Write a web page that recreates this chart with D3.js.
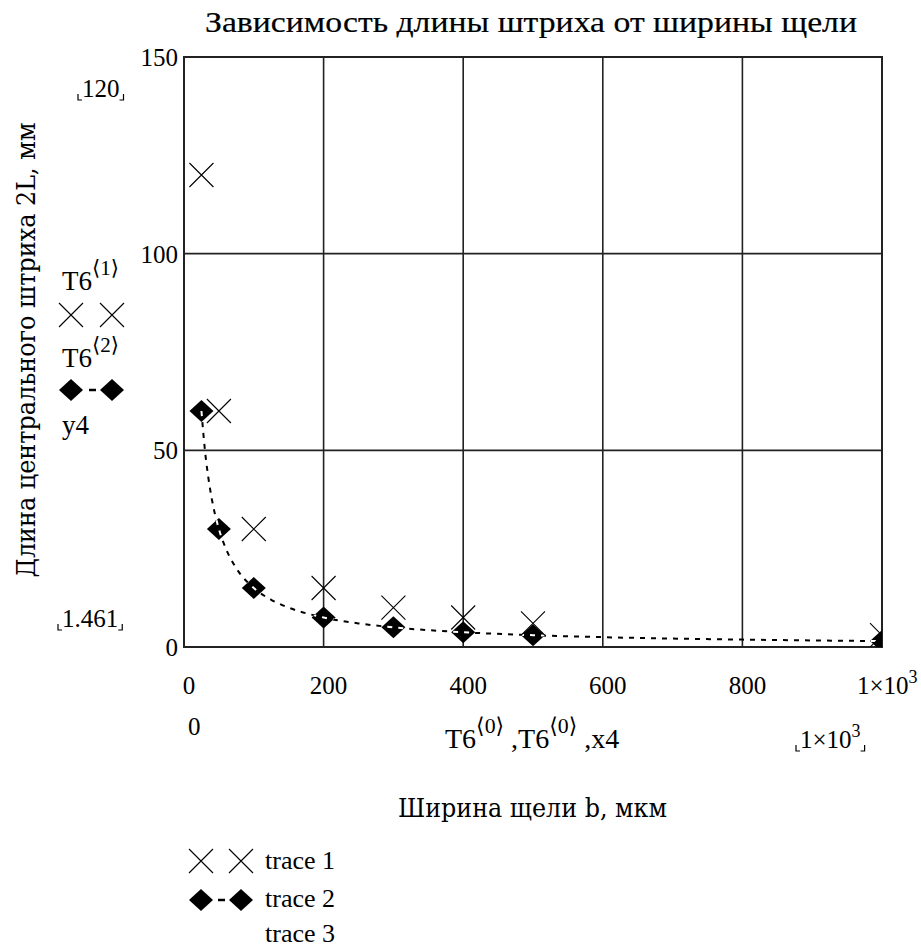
<!DOCTYPE html>
<html><head><meta charset="utf-8">
<script src="https://cdn.jsdelivr.net/npm/d3@7"></script>
<style>body{margin:0;background:#fff}</style>
</head><body>
<script>
// ---- data ----
const title = "Зависимость длины штриха от ширины щели";
const yTitle = "Длина центрального штриха 2L, мм";
const xTitle = "Ширина щели b, мкм";
const b = [25, 50, 100, 200, 300, 400, 500, 1000];           // T6<0>
const len1 = [120, 60, 30, 15, 10, 7.5, 6, 3];               // T6<1>
const len2 = [60, 30, 15, 7.5, 5, 3.75, 3, 1.5];             // T6<2>
const x4 = [25, 30, 35, 40, 50, 60, 75, 100, 125, 150, 200, 250, 300, 400, 500, 600, 700, 800, 900, 1000];
const y4 = [60, 50, 42.9, 37.5, 30, 25, 20, 15, 12, 10, 7.5, 6, 5, 3.75, 3, 2.5, 2.14, 1.88, 1.67, 1.5];
const xTicks = [0, 200, 400, 600, 800, 1000];
const xTickLabels = ["0", "200", "400", "600", "800", "1×10|3"];
const yTicks = [0, 50, 100, 150];
const yTickLabels = ["0", "50", "100", "150"];
const yMaxLabel = "120", yMinLabel = "1.461", xMinLabel = "0", xMaxLabel = "1×10|3";
const legendNames = ["trace 1", "trace 2", "trace 3"];

const W = 921, H = 950;
const serif = "Liberation Serif";
const slab = "DejaVu Serif";
const svg = d3.select("body").append("svg").attr("width", W).attr("height", H)
  .style("background", "#fff");

const x = d3.scaleLinear().domain([0, 1000]).range([184, 882]);
const y = d3.scaleLinear().domain([0, 150]).range([647, 57]);

// title
svg.append("text").attr("x", 205).attr("y", 32).text(title)
  .attr("font-family", serif).attr("font-size", 30).attr("stroke", "#000").attr("stroke-width", 0.2)
  .attr("textLength", 652).attr("lengthAdjust", "spacingAndGlyphs");

// grid
const g = svg.append("g");
g.selectAll(".vg").data(xTicks.slice(1, -1)).join("line")
  .attr("x1", d => x(d)).attr("x2", d => x(d)).attr("y1", y(150)).attr("y2", y(0))
  .attr("stroke", "#222").attr("stroke-width", 1.6);
g.selectAll(".hg").data(yTicks.slice(1, -1)).join("line")
  .attr("y1", d => y(d)).attr("y2", d => y(d)).attr("x1", x(0)).attr("x2", x(1000))
  .attr("stroke", "#222").attr("stroke-width", 1.6);
g.append("rect").attr("x", x(0)).attr("y", y(150)).attr("width", x(1000) - x(0)).attr("height", y(0) - y(150))
  .attr("fill", "none").attr("stroke", "#222").attr("stroke-width", 2);

// text helper with superscript parts: "base|sup"
function supText(sel, px, py, str, fs, anchor) {
  const t = sel.append("text").attr("x", px).attr("y", py)
    .attr("font-family", serif).attr("font-size", fs).attr("text-anchor", anchor || "start");
  const parts = str.split("|");
  t.append("tspan").text(parts[0]);
  if (parts.length > 1) {
    t.append("tspan").attr("dy", -fs * 0.45).attr("font-size", fs * 0.72).text(parts[1]);
  }
  return t;
}
function angleSup(sel, px, py, segs, fs) {
  const t = sel.append("text").attr("x", px).attr("y", py)
    .attr("font-family", serif).attr("font-size", fs);
  let pend = 0;
  const up = fs * 0.55, sfs = fs * 0.78;
  segs.forEach(([base, idx]) => {
    t.append("tspan").attr("dy", pend).text(base);
    pend = 0;
    if (idx !== null) {
      t.append("tspan").attr("dy", -up).attr("font-size", sfs)
        .attr("font-family", "DejaVu Serif").text("⟨");
      t.append("tspan").attr("font-size", sfs).text(idx);
      t.append("tspan").attr("font-size", sfs).attr("font-family", "DejaVu Serif").text("⟩");
      pend = up;
    }
  });
  return t;
}
function bracketed(sel, px, py, str, fs) {
  const t = supText(sel, px, py, str, fs);
  const bb = t.node().getBBox();
  const l = bb.x - 4, r = bb.x + bb.width + 4, bot = py + 3;
  sel.append("path").attr("d", `M${l},${bot - 6}V${bot}H${l + 4}M${r},${bot - 6}V${bot}H${r - 4}`)
    .attr("fill", "none").attr("stroke", "#000").attr("stroke-width", 1.2);
  return t;
}

// y tick labels
yTicks.forEach((v, i) => {
  svg.append("text").attr("x", 178).attr("y", y(v) + 9).attr("text-anchor", "end")
    .attr("font-family", serif).attr("font-size", 25).text(yTickLabels[i]);
});
// x tick labels
xTicks.forEach((v, i) => {
  if (i === xTicks.length - 1) supText(svg, x(v) - 25, 694, xTickLabels[i], 25);
  else supText(svg, x(v) + 5, 694, xTickLabels[i], 25, "middle");
});

// y axis title (rotated)
svg.append("text").attr("transform", "translate(35,350) rotate(-90)").attr("text-anchor", "middle")
  .attr("font-family", slab).attr("font-size", 26).text(yTitle)
  .attr("textLength", 455).attr("lengthAdjust", "spacingAndGlyphs");
// x axis title
svg.append("text").attr("x", 398).attr("y", 817)
  .attr("font-family", slab).attr("font-size", 26).text(xTitle)
  .attr("textLength", 269).attr("lengthAdjust", "spacingAndGlyphs");

// range markers
bracketed(svg, 82, 97, yMaxLabel, 25);
bracketed(svg, 62, 627, yMinLabel, 25);
supText(svg, 188, 735, xMinLabel, 25);
bracketed(svg, 800, 748, xMaxLabel, 25);
angleSup(svg, 445, 748, [["T6", "0"], [" ,T6", "0"], [" ,x4", null]], 28);

// markers
const xMark = "M-12,-12L12,12M-12,12L12,-12";
const diamond = "M0,-11L12,0L0,11L-12,0Z";

// clip for plot
svg.append("clipPath").attr("id", "plotclip").append("rect")
  .attr("x", x(0)).attr("y", y(150)).attr("width", x(1000) - x(0)).attr("height", y(0) - y(150));
const plot = svg.append("g").attr("clip-path", "url(#plotclip)");

const line = d3.line().x((d, i) => x(x4[i])).y((d, i) => y(y4[i])).curve(d3.curveMonotoneX);
plot.append("path").datum(y4).attr("d", line).attr("fill", "none").attr("stroke", "#000")
  .attr("stroke-width", 2).attr("stroke-dasharray", "5,6");

plot.selectAll(".d2").data(len2).join("path")
  .attr("transform", (d, i) => `translate(${x(b[i])},${y(d)})`).attr("d", diamond).attr("fill", "#000");

// white dashes through diamonds (XOR-like)
const dc = svg.append("clipPath").attr("id", "dclip");
len2.forEach((d, i) => dc.append("path").attr("transform", `translate(${x(b[i])},${y(d)})`).attr("d", diamond));
plot.append("g").attr("clip-path", "url(#dclip)").append("path").datum(y4).attr("d", line)
  .attr("fill", "none").attr("stroke", "#fff").attr("stroke-width", 2).attr("stroke-dasharray", "5,6");

plot.selectAll(".x1").data(len1).join("path")
  .attr("transform", (d, i) => `translate(${x(b[i])},${y(d)})`).attr("d", xMark)
  .attr("fill", "none").attr("stroke", "#000").attr("stroke-width", 1.1);

// left legend (Mathcad trace labels)
angleSup(svg, 62, 290, [["T6", "1"]], 27);
[71, 112].forEach(cx => svg.append("path").attr("transform", `translate(${cx},315)`).attr("d", xMark)
  .attr("fill", "none").attr("stroke", "#000").attr("stroke-width", 1.1));
angleSup(svg, 62, 367, [["T6", "2"]], 27);
[71, 112].forEach(cx => svg.append("path").attr("transform", `translate(${cx},390)`).attr("d", diamond).attr("fill", "#000"));
svg.append("line").attr("x1", 89).attr("x2", 96).attr("y1", 390).attr("y2", 390).attr("stroke", "#000").attr("stroke-width", 2.5);
svg.append("text").attr("x", 62).attr("y", 434).attr("font-family", serif).attr("font-size", 27).text("y4");

// bottom legend
[201, 241].forEach(cx => svg.append("path").attr("transform", `translate(${cx},861)`).attr("d", xMark)
  .attr("fill", "none").attr("stroke", "#000").attr("stroke-width", 1.1));
[201, 241].forEach(cx => svg.append("path").attr("transform", `translate(${cx},900)`).attr("d", diamond).attr("fill", "#000"));
svg.append("line").attr("x1", 218).attr("x2", 225).attr("y1", 900).attr("y2", 900).attr("stroke", "#000").attr("stroke-width", 2.5);
[869, 907, 942].forEach((by, i) => svg.append("text").attr("x", 265).attr("y", by)
  .attr("font-family", serif).attr("font-size", 26).text(legendNames[i]));
</script>
</body></html>
